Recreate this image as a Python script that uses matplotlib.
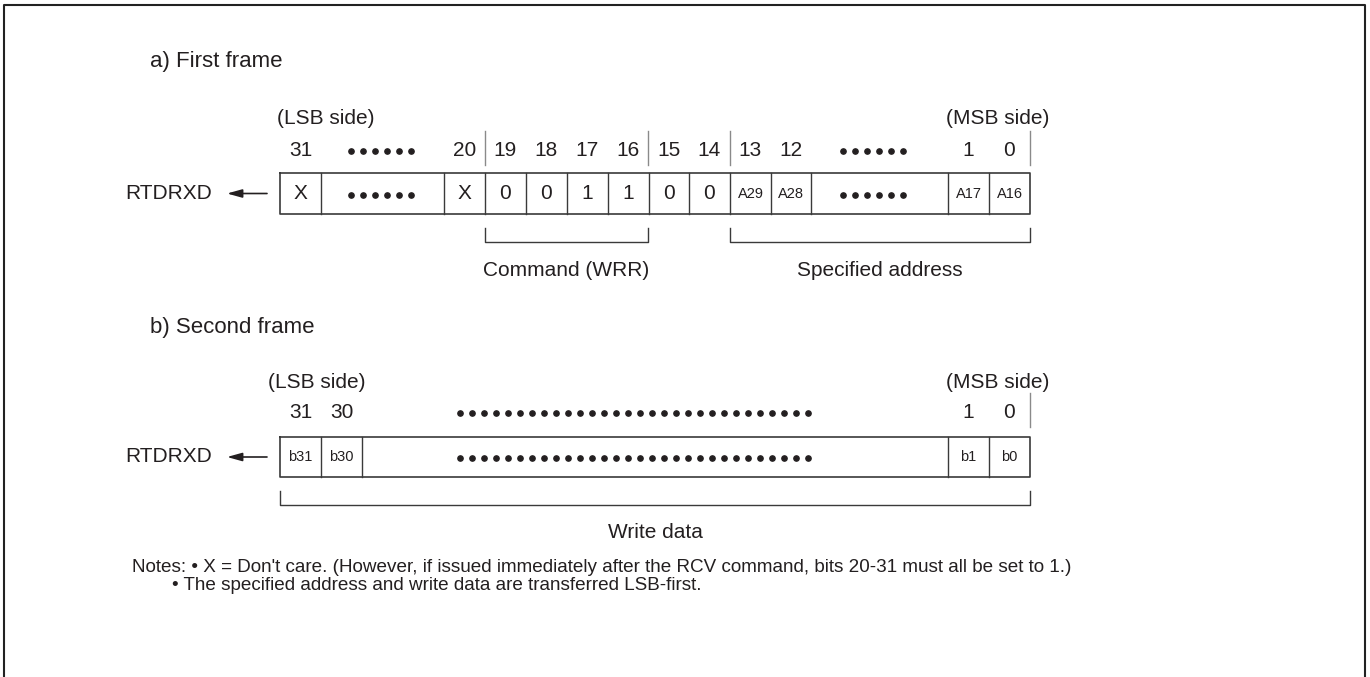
import matplotlib
matplotlib.use("Agg")
import matplotlib.pyplot as plt

# ---------------- data ----------------
frame_titles = ["a) First frame", "b) Second frame"]
side_labels = ["(LSB side)", "(MSB side)"]
signal_name = "RTDRXD"

a_cells = ["X", "DOTS", "X", "0", "0", "1", "1", "0", "0", "A29", "A28", "DOTS", "A17", "A16"]
a_bits = ["31", "DOTS", "20", "19", "18", "17", "16", "15", "14", "13", "12", "DOTS", "1", "0"]
a_fields = ["Command (WRR)", "Specified address"]

b_cells = ["b31", "b30", "DOTS", "b1", "b0"]
b_bits = ["31", "30", "DOTS", "1", "0"]
b_fields = ["Write data"]

notes = ["Notes: \u2022 X = Don't care. (However, if issued immediately after the RCV command, bits 20-31 must all be set to 1.)",
         "\u2022 The specified address and write data are transferred LSB-first."]

# ---------------- layout ----------------
W, H = 1370, 677
TXT = "#231f20"
BOX = "#3a3a3a"
SEP = "#8a8a8a"
FONT = ["Liberation Sans", "DejaVu Sans"]

a_edges = [280, 321, 444, 485, 526, 567, 608, 649, 689, 730, 771, 811, 948, 989, 1030]
a_dot_counts = {1: 6, 11: 6}
a_dot_centers = {1: 381, 11: 873}
a_seps = [485, 648, 730, 1030]
a_field_spans = [(485, 648), (730, 1030)]

b_edges = [280, 321, 362, 948, 989, 1030]
b_dot_count = 30
b_dot_center = 634.5
b_seps = [1030]
b_field_spans = [(280, 1030)]

fig = plt.figure(figsize=(W / 100, H / 100), dpi=100)
ax = fig.add_axes([0, 0, 1, 1])
ax.set_xlim(0, W)
ax.set_ylim(H, 0)
ax.axis("off")

# outer frame (bottom edge cut off)
ax.plot([4, 4, 1365, 1365], [H + 5, 5, 5, H + 5], color="#222222", lw=1.5, clip_on=False)


def dots(xc, y, n, spacing=12.0):
    xs = [xc + (i - (n - 1) / 2) * spacing for i in range(n)]
    ax.plot(xs, [y] * n, linestyle="none", marker="o", ms=3.8, color=TXT, mec=TXT)


def frame(lsb_x, side_y, bit_y, box_top, box_bot, edges, cells, bits, seps, spans, fields,
          dot_spec, small_idx, field_y):
    ax.text(lsb_x, side_y, side_labels[0], fontsize=15, family=FONT, color=TXT,
            va="center", ha="left")
    ax.text(1049, side_y, side_labels[1], fontsize=15, family=FONT, color=TXT,
            va="center", ha="right")
    ymid = (box_top + box_bot) / 2
    # signal label and arrow
    ax.text(125, ymid, signal_name, fontsize=15, family=FONT, color=TXT, va="center", ha="left")
    ax.annotate("", xy=(227, ymid), xytext=(267, ymid),
                arrowprops=dict(arrowstyle="-|>,head_length=0.9,head_width=0.25",
                                color=TXT, lw=1.2, shrinkA=0, shrinkB=0))
    # box
    x0, x1 = edges[0], edges[-1]
    ax.plot([x0, x1, x1, x0, x0], [box_top, box_top, box_bot, box_bot, box_top],
            color=BOX, lw=1.2)
    for e in edges[1:-1]:
        ax.plot([e, e], [box_top, box_bot], color=BOX, lw=1.0)
    for i, (lab, bit) in enumerate(zip(cells, bits)):
        xc = (edges[i] + edges[i + 1]) / 2
        if lab == "DOTS":
            n, c = dot_spec(i)
            dots(c, ymid + 1, n)
            dots(c, bit_y, n)
            continue
        fs = 10.5 if i in small_idx else 15
        ax.text(xc, ymid, lab, fontsize=fs, family=FONT, color=TXT, va="center", ha="center")
        ax.text(xc, bit_y, bit, fontsize=15, family=FONT, color=TXT, va="center", ha="center")
    for s in seps:
        ax.plot([s, s], [bit_y - 20, bit_y + 14], color=SEP, lw=1.0)
    for (s0, s1), f in zip(spans, fields):
        by0, by1 = box_bot + 14, box_bot + 28
        ax.plot([s0, s0, s1, s1], [by0, by1, by1, by0], color=BOX, lw=1.0)
        ax.text((s0 + s1) / 2, field_y, f, fontsize=15, family=FONT, color=TXT,
                va="center", ha="center")


# title texts
ax.text(150, 62, frame_titles[0], fontsize=16, family=FONT, color=TXT, va="center", ha="left")
ax.text(150, 327, frame_titles[1], fontsize=16, family=FONT, color=TXT, va="center", ha="left")

frame(277, 118, 151, 173, 214, a_edges, a_cells, a_bits, a_seps, a_field_spans, a_fields,
      lambda i: (a_dot_counts[i], a_dot_centers[i]), {9, 10, 12, 13}, 270)
frame(268, 382, 413, 437, 477, b_edges, b_cells, b_bits, b_seps, b_field_spans, b_fields,
      lambda i: (b_dot_count, b_dot_center), {0, 1, 3, 4}, 533)

# notes
NFONT = ["Liberation Sans", "DejaVu Sans"]
ax.text(132, 567, notes[0], fontsize=13.6, family=NFONT, color=TXT, va="center", ha="left")
ax.text(172, 586, notes[1], fontsize=13.6, family=NFONT, color=TXT, va="center", ha="left")

fig.savefig("out.png", dpi=100, facecolor="white")
